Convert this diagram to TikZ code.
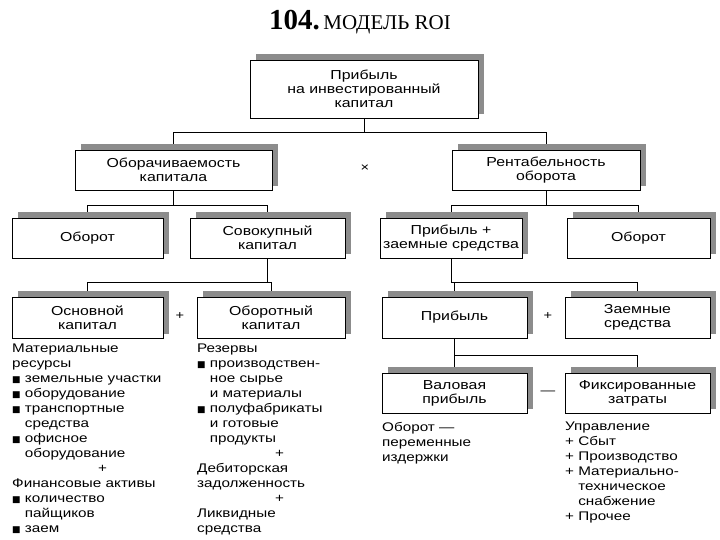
\documentclass[tikz,border=0pt]{standalone}
\usepackage{fontspec}
\setmainfont{Liberation Sans}[FakeStretch=1.22]
\newfontfamily\titlefont{Liberation Serif}
\newfontfamily\djfont{DejaVu Sans}
\begin{document}
\begin{tikzpicture}[x=1pt,y=-1pt,
  bx/.style={draw,thick,fill=white,align=center,font=\fontsize{13}{14}\selectfont,inner sep=0pt},
  sh/.style={fill=black!45},
  ln/.style={thick},
  lst/.style={anchor=north west,align=left,font=\fontsize{12.5}{15}\selectfont,inner sep=0pt}]
\useasboundingbox (0,0) rectangle (720,540);
\newcommand{\bxx}[6]{% name, x1,y1,x2,y2,text
  \fill[sh] (#2+6,#3-6) rectangle (#4+6,#5-4);
  \node[bx,minimum width=#4-#2,minimum height=#5-#3] (#1) at ({(#2+#4)/2},{(#3+#5)/2}) {#6};}
\newcommand{\sq}{{\djfont\small■}}
\node (title) at (360,22) {\titlefont\fontsize{29}{30}\selectfont\textbf{104.}\fontsize{21}{22}\selectfont\,МОДЕЛЬ ROI};
\draw[ln] (364,118) -- (364,132) -| (173,150);
\draw[ln] (364,132) -| (546,150);
\draw[ln] (173,190) -- (173,205) -| (87,218);
\draw[ln] (173,205) -| (267,218);
\draw[ln] (546,190) -- (546,205) -| (451,218);
\draw[ln] (546,205) -| (638,218);
\draw[ln] (267,258) -- (267,282) -| (87,297);
\draw[ln] (267,282) -| (271,297);
\draw[ln] (451,258) -- (451,282) -| (454,297);
\draw[ln] (451,282) -| (637,297);
\draw[ln] (454,338) -- (454,373);
\draw[ln] (454,355) -| (637,373);
\bxx{top}{250}{60}{478}{118}{Прибыль\\на инвестированный\\капитал}
\bxx{a}{75}{150}{272}{190}{Оборачиваемость\\капитала}
\bxx{b}{452}{150}{640}{190}{Рентабельность\\оборота}
\bxx{a1}{12}{218}{163}{258}{Оборот}
\bxx{a2}{190}{218}{345}{258}{Совокупный\\капитал}
\bxx{b1}{380}{218}{522}{258}{Прибыль +\\заемные средства}
\bxx{b2}{567}{218}{710}{258}{Оборот}
\bxx{c1}{12}{297}{163}{338}{Основной\\капитал}
\bxx{c2}{197}{297}{345}{338}{Оборотный\\капитал}
\bxx{d1}{382}{297}{527}{338}{Прибыль}
\bxx{d2}{565}{297}{710}{338}{Заемные\\средства}
\bxx{e1}{382}{373}{527}{413}{Валовая\\прибыль}
\bxx{e2}{565}{373}{710}{413}{Фиксированные\\затраты}
\node[font=\large] (x) at (365,168) {×};
\node[font=\large] (p1) at (180,316) {+};
\node[font=\large] (p2) at (548,316) {+};
\node[font=\large] (m1) at (548,393) {—};
\node[lst] (l1) at (12,344) {Материальные\\ресурсы\\\sq{} земельные участки\\\sq{} оборудование\\\sq{} транспортные\\\phantom{\sq{} }средства\\\sq{} офисное\\\phantom{\sq{} }оборудование\\\hspace{86pt}+\\Финансовые активы\\\sq{} количество\\\phantom{\sq{} }пайщиков\\\sq{} заем};
\node[lst] (l2) at (197,344) {Резервы\\\sq{} производствен-\\\phantom{\sq{} }ное сырье\\\phantom{\sq{} }и материалы\\\sq{} полуфабрикаты\\\phantom{\sq{} }и готовые\\\phantom{\sq{} }продукты\\\hspace{78pt}+\\Дебиторская\\задолженность\\\hspace{78pt}+\\Ликвидные\\средства};
\node[lst] (l3) at (382,422) {Оборот —\\переменные\\издержки};
\node[lst] (l4) at (565,422) {Управление\\+ Сбыт\\+ Производство\\+ Материально-\\\phantom{+ }техническое\\\phantom{+ }снабжение\\+ Прочее};
\end{tikzpicture}
\end{document}
